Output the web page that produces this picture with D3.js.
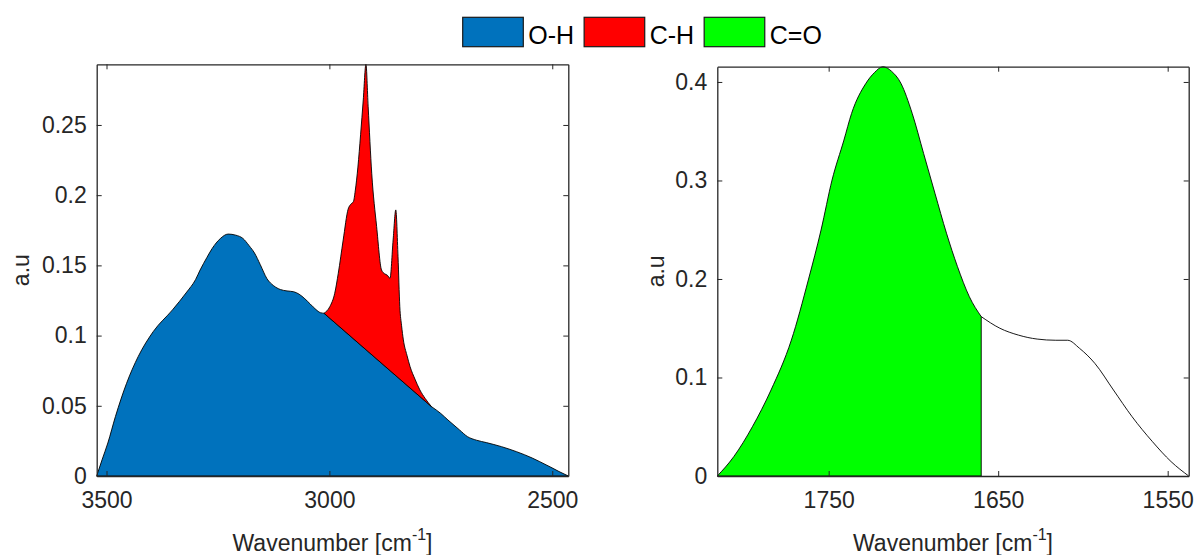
<!DOCTYPE html>
<html>
<head>
<meta charset="utf-8">
<script src="https://cdn.jsdelivr.net/npm/d3@7"></script>
<style>
  html, body { margin: 0; padding: 0; background: #fff; }
  svg { display: block; font-family: "Liberation Sans", Arial, Helvetica, sans-serif; }
</style>
</head>
<body>
<svg id="chart" width="1197" height="555"></svg>
<script>
// ---- Band legend ----
const bandLabels = ["O-H", "C-H", "C=O"];
const bandColors = ["#0072BD", "#FF0000", "#00FF00"];

// ---- High-wavenumber region (O-H and C-H stretching) ----
const highWavenumber = [
  3522, 3510, 3497, 3480, 3455, 3429, 3395, 3352, 3320, 3300, 3290, 3275, 3263, 3245, 3227,
  3210, 3194, 3180, 3168, 3155, 3140, 3125, 3110, 3095, 3080, 3068, 3055, 3043, 3030,
  3020, 3012, 2999, 2988, 2980, 2969, 2958, 2952, 2946, 2942, 2936, 2930, 2924, 2918,
  2913, 2905, 2894, 2883, 2876, 2870, 2864, 2857, 2851, 2846, 2842, 2838, 2834, 2826,
  2819, 2808, 2797, 2785, 2771, 2750, 2734, 2708, 2690, 2670, 2648, 2614, 2580, 2545,
  2528, 2503, 2485, 2464
];
const highAbsorbance = [
  0.0000, 0.0115, 0.0235, 0.0423, 0.0660, 0.0850, 0.1029, 0.1183, 0.1310, 0.1400, 0.1467, 0.1555, 0.1620, 0.1690, 0.1723,
  0.1715, 0.1692, 0.1640, 0.1588, 0.1505, 0.1405, 0.1355, 0.1328, 0.1318, 0.1312, 0.1295, 0.1262, 0.1225, 0.1185,
  0.1163, 0.1159, 0.1206, 0.1301, 0.1444, 0.1681, 0.1900, 0.1935, 0.1955, 0.2030, 0.2200, 0.2430, 0.2678, 0.2932,
  0.2630, 0.2156, 0.1776, 0.1467, 0.1440, 0.1430, 0.1408, 0.1681, 0.1895, 0.1562, 0.1206, 0.1070, 0.0969, 0.0860,
  0.0779, 0.0690, 0.0613, 0.0552, 0.0494, 0.0445, 0.0399, 0.0328, 0.0280, 0.0255, 0.0238, 0.0209, 0.0173, 0.0128,
  0.0102, 0.0062, 0.0032, 0.0000
];
// C-H band integration limits (linear baseline between them)
const chBandLimits = [3012, 2771];

// ---- Carbonyl region ----
const lowWavenumber = [
  1815.7, 1806, 1795, 1784, 1772, 1762, 1754.5, 1748, 1741, 1736.5, 1728, 1723, 1718, 1713,
  1707.4, 1700.7, 1694, 1687.3, 1680.5, 1674, 1667, 1660, 1649, 1638, 1627, 1616, 1609, 1602,
  1593, 1582, 1571, 1559, 1548, 1537.6
];
const lowAbsorbance = [
  0.0000, 0.0196, 0.0500, 0.0873, 0.1380, 0.1990, 0.2497, 0.3005, 0.3410, 0.3680, 0.3987, 0.4095, 0.4155, 0.4110,
  0.3987, 0.3680, 0.3275, 0.2870, 0.2465, 0.2125, 0.1820, 0.1618, 0.1500, 0.1430, 0.1390, 0.1378, 0.1378, 0.1296,
  0.1144, 0.0873, 0.0602, 0.0349, 0.0146, 0.0000
];
// C=O band integration limits
const coBandLimits = [1815.7, 1660];

// ---- Axis limits and ticks ----
const highXLim = [3522, 2464];
const highYLim = [0, 0.2932];
const highXTicks = [3500, 3000, 2500];
const highYTicks = [0, 0.05, 0.1, 0.15, 0.2, 0.25];

const lowXLim = [1815.7, 1537.6];
const lowYLim = [0, 0.4155];
const lowXTicks = [1750, 1650, 1550];
const lowYTicks = [0, 0.1, 0.2, 0.3, 0.4];

const yLabelText = "a.u";

// ---- Layout ----
const svg = d3.select("#chart");
const axisColor = "#262626";
const fontSize = 23;
const panels = [
  { left: 96.7, right: 568.3, top: 64.3, bottom: 476, yLabelX: 29 },
  { left: 717.3, right: 1188.7, top: 66.7, bottom: 476, yLabelX: 664 }
];

function makeScales(p, xLim, yLim) {
  return {
    x: d3.scaleLinear().domain(xLim).range([p.left, p.right]),
    y: d3.scaleLinear().domain(yLim).range([p.bottom, p.top])
  };
}

const fmt = d => (d === 0 ? "0" : d3.format("~g")(d));

function drawAxes(p, s, xTicks, yTicks) {
  const g = svg.append("g");
  const bottom = g.append("g").attr("transform", `translate(0,${p.bottom})`)
    .call(d3.axisBottom(s.x).tickValues(xTicks).tickSizeInner(-5).tickSizeOuter(0).tickPadding(16).tickFormat(fmt));
  const top = g.append("g").attr("transform", `translate(0,${p.top})`)
    .call(d3.axisTop(s.x).tickValues(xTicks).tickSizeInner(-5).tickSizeOuter(0).tickFormat(""));
  const left = g.append("g").attr("transform", `translate(${p.left},0)`)
    .call(d3.axisLeft(s.y).tickValues(yTicks).tickSizeInner(-5).tickSizeOuter(0).tickPadding(10).tickFormat(fmt));
  const right = g.append("g").attr("transform", `translate(${p.right},0)`)
    .call(d3.axisRight(s.y).tickValues(yTicks).tickSizeInner(-5).tickSizeOuter(0).tickFormat(""));
  [bottom, top, left, right].forEach(a => {
    a.select(".domain").attr("stroke", axisColor).attr("stroke-width", 1.3);
    a.selectAll(".tick line").attr("stroke", axisColor).attr("stroke-width", 1);
    a.selectAll(".tick text").attr("fill", axisColor)
      .style("font-size", fontSize + "px")
      .style("font-family", '"Liberation Sans", Arial, sans-serif');
  });

  // x label with superscript
  const xl = g.append("text")
    .attr("x", (p.left + p.right) / 2).attr("y", 551)
    .attr("text-anchor", "middle").attr("fill", axisColor)
    .style("font-size", fontSize + "px");
  xl.append("tspan").text("Wavenumber [cm");
  xl.append("tspan").text("-1").attr("dy", -11).style("font-size", "16px");
  xl.append("tspan").text("]").attr("dy", 11);

  // y label
  g.append("text")
    .attr("transform", `translate(${p.yLabelX},${(p.top + p.bottom) / 2}) rotate(-90)`)
    .attr("text-anchor", "middle").attr("fill", axisColor)
    .style("font-size", fontSize + "px")
    .text(yLabelText);
}

function pathOf(points, s) {
  return d3.line().x(d => s.x(d[0])).y(d => s.y(d[1])).curve(d3.curveMonotoneX)(points);
}

// ---- Panel 1: O-H and C-H ----
const p1 = panels[0];
const s1 = makeScales(p1, highXLim, highYLim);
const highPts = highWavenumber.map((w, i) => [w, highAbsorbance[i]]);
const beforeCH = highPts.filter(d => d[0] >= chBandLimits[0]);
const insideCH = highPts.filter(d => d[0] <= chBandLimits[0] && d[0] >= chBandLimits[1]);
const afterCH = highPts.filter(d => d[0] <= chBandLimits[1]);

const ohPath = pathOf(beforeCH, s1) + "L" + pathOf(afterCH, s1).slice(1) +
  `L${s1.x(highXLim[1])},${s1.y(0)}L${s1.x(highXLim[0])},${s1.y(0)}Z`;
svg.append("path").attr("d", ohPath)
  .attr("fill", bandColors[0]).attr("stroke", "#000").attr("stroke-width", 0.9)
  .attr("stroke-linejoin", "round");

const chPath = pathOf(insideCH, s1) + "Z";
svg.append("path").attr("d", chPath)
  .attr("fill", bandColors[1]).attr("stroke", "#000").attr("stroke-width", 0.9)
  .attr("stroke-linejoin", "round");

drawAxes(p1, s1, highXTicks, highYTicks);

// ---- Panel 2: C=O ----
const p2 = panels[1];
const s2 = makeScales(p2, lowXLim, lowYLim);
const lowPts = lowWavenumber.map((w, i) => [w, lowAbsorbance[i]]);
const insideCO = lowPts.filter(d => d[0] <= coBandLimits[0] && d[0] >= coBandLimits[1]);
const afterCO = lowPts.filter(d => d[0] <= coBandLimits[1]);

const coPath = pathOf(insideCO, s2) +
  `L${s2.x(coBandLimits[1])},${s2.y(0)}L${s2.x(coBandLimits[0])},${s2.y(0)}Z`;
svg.append("path").attr("d", coPath)
  .attr("fill", bandColors[2]).attr("stroke", "#000").attr("stroke-width", 0.9);

svg.append("path").attr("d", pathOf(afterCO, s2))
  .attr("fill", "none").attr("stroke", "#000").attr("stroke-width", 0.9);

drawAxes(p2, s2, lowXTicks, lowYTicks);

// ---- Legend ----
const legend = svg.append("g");
let lx = 462.7;
const boxW = 60.6, boxH = 29.4, boxY = 17.3;
bandLabels.forEach((lab, i) => {
  legend.append("rect")
    .attr("x", lx).attr("y", boxY).attr("width", boxW).attr("height", boxH)
    .attr("fill", bandColors[i]).attr("stroke", "#1a1a1a").attr("stroke-width", 1.2);
  const t = legend.append("text")
    .attr("x", lx + boxW + 5).attr("y", 43.5)
    .attr("fill", "#000").style("font-size", "25px").text(lab);
  lx += boxW + 5 + t.node().getComputedTextLength() + 10;
});
</script>
</body>
</html>
